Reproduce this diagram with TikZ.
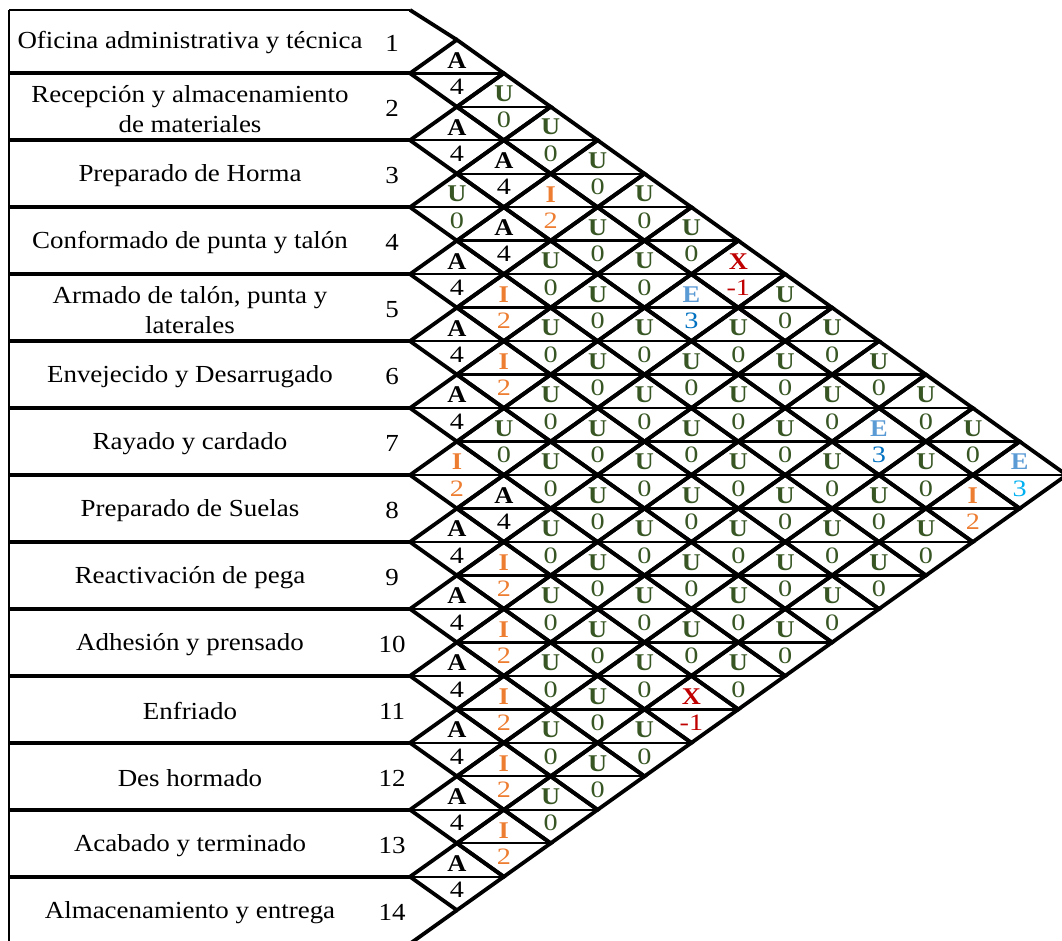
\documentclass[tikz,border=0pt]{standalone}
\usepackage{fontspec}
\setmainfont[FakeStretch=1.1]{Liberation Serif}
\newfontfamily\dfont[FakeStretch=1.2]{Liberation Serif}
\newfontfamily\lfont[FakeStretch=1.1]{Liberation Serif}
\definecolor{cU}{HTML}{375623}
\definecolor{cI}{HTML}{ED7D31}
\definecolor{cE}{HTML}{5B9BD5}
\definecolor{cEn}{HTML}{0070C0}
\definecolor{cEc}{HTML}{00B0F0}
\definecolor{cX}{HTML}{C00000}
\def\myrelA{\def\myL{A}\def\myN{4}\def\mylc{black}\def\mync{black}}
\def\myrelU{\def\myL{U}\def\myN{0}\def\mylc{cU}\def\mync{cU}}
\def\myrelI{\def\myL{I}\def\myN{2}\def\mylc{cI}\def\mync{cI}}
\def\myrelE{\def\myL{E}\def\myN{3}\def\mylc{cE}\def\mync{cEn}}
\def\myrelF{\def\myL{E}\def\myN{3}\def\mylc{cE}\def\mync{cEc}}
\def\myrelX{\def\myL{X}\def\myN{-1}\def\mylc{cX}\def\mync{cX}}
\tikzset{
  diag/.style={line width=3.8pt, line join=miter},
  midline/.style={line width=2.4pt},
  rowsep/.style={line width=3.8pt},
  frame/.style={line width=1.6pt},
  letter/.style={font=\lfont\fontsize{24}{24}\selectfont\bfseries, inner sep=0pt},
  number/.style={font=\dfont\fontsize{23.5}{24}\selectfont, inner sep=0pt},
  lab/.style={font=\fontsize{24.5}{30}\selectfont, align=center, inner sep=0pt},
}
\begin{document}
\begin{tikzpicture}[x=1pt,y=-1pt]
\useasboundingbox (0,0) rectangle (1062,940);
\clip (0,0) rectangle (1062,940);
\def\w{46.9}
\def\h{66.95}
% left frame
\draw[frame] (9,10) -- (410,10);
\draw[frame] (9,10) -- (9,950);
\foreach \k in {1,...,13}{
  \pgfmathsetmacro\by{73.3+(\k-1)*\h}
  \draw[rowsep] (9,\by) -- (410,\by);
}
% outer chevron ends
\pgfmathsetmacro\cya{73.3-0.5*\h}
\pgfmathsetmacro\cyb{73.3+12.5*\h}
\coordinate (t0) at (410,10);
\coordinate (t1) at (410+\w,\cya);
\coordinate (b0) at (410+\w,\cyb);
\coordinate (b1) at (410,\cyb+0.5*\h);
\draw[diag] (t0) -- (t1);
\draw[diag] (b0) -- (b1);
% diamonds
\foreach \i/\j/\t in {
 1/2/A,1/3/U,1/4/U,1/5/U,1/6/U,1/7/U,1/8/X,1/9/U,1/10/U,1/11/U,1/12/U,1/13/U,1/14/F,
 2/3/A,2/4/A,2/5/I,2/6/U,2/7/U,2/8/E,2/9/U,2/10/U,2/11/U,2/12/E,2/13/U,2/14/I,
 3/4/U,3/5/A,3/6/U,3/7/U,3/8/U,3/9/U,3/10/U,3/11/U,3/12/U,3/13/U,3/14/U,
 4/5/A,4/6/I,4/7/U,4/8/U,4/9/U,4/10/U,4/11/U,4/12/U,4/13/U,4/14/U,
 5/6/A,5/7/I,5/8/U,5/9/U,5/10/U,5/11/U,5/12/U,5/13/U,5/14/U,
 6/7/A,6/8/U,6/9/U,6/10/U,6/11/U,6/12/U,6/13/U,6/14/U,
 7/8/I,7/9/A,7/10/U,7/11/U,7/12/U,7/13/U,7/14/U,
 8/9/A,8/10/I,8/11/U,8/12/U,8/13/U,8/14/X,
 9/10/A,9/11/I,9/12/U,9/13/U,9/14/U,
 10/11/A,10/12/I,10/13/U,10/14/U,
 11/12/A,11/13/I,11/14/U,
 12/13/A,12/14/I,
 13/14/A}{
  \pgfmathsetmacro\cx{410+(\j-\i)*\w}
  \pgfmathsetmacro\cy{73.3+((\i+\j)/2-1.5)*\h}
  \draw[midline] (\cx-\w,\cy) -- (\cx+\w,\cy);
  \draw[diag] (\cx-\w,\cy) -- (\cx,\cy-0.5*\h) -- (\cx+\w,\cy) -- (\cx,\cy+0.5*\h) -- cycle;
  \csname myrel\t\endcsname
  \node[letter, text=\mylc] (L-\i-\j) at (\cx,\cy-13) {\myL};
  \node[number, text=\mync] (N-\i-\j) at (\cx,\cy+13.5) {\myN};
}
% labels
\foreach \r/\txt in {
 1/{Oficina administrativa y técnica},
 2/{Recepción y almacenamiento\\de materiales},
 3/{Preparado de Horma},
 4/{Conformado de punta y talón},
 5/{Armado de talón, punta y\\laterales},
 6/{Envejecido y Desarrugado},
 7/{Rayado y cardado},
 8/{Preparado de Suelas},
 9/{Reactivación de pega},
 10/{Adhesión y prensado},
 11/{Enfriado},
 12/{Des hormado},
 13/{Acabado y terminado},
 14/{Almacenamiento y entrega}}{
  \pgfmathsetmacro\ry{ifthenelse(\r==1,43,73.3+(\r-1.5)*\h+2)}
  \node[lab] (name-\r) at (190,\ry) {\txt};
  \node[lab] (num-\r) at (392,\ry) {\r};
}
\end{tikzpicture}
\end{document}
